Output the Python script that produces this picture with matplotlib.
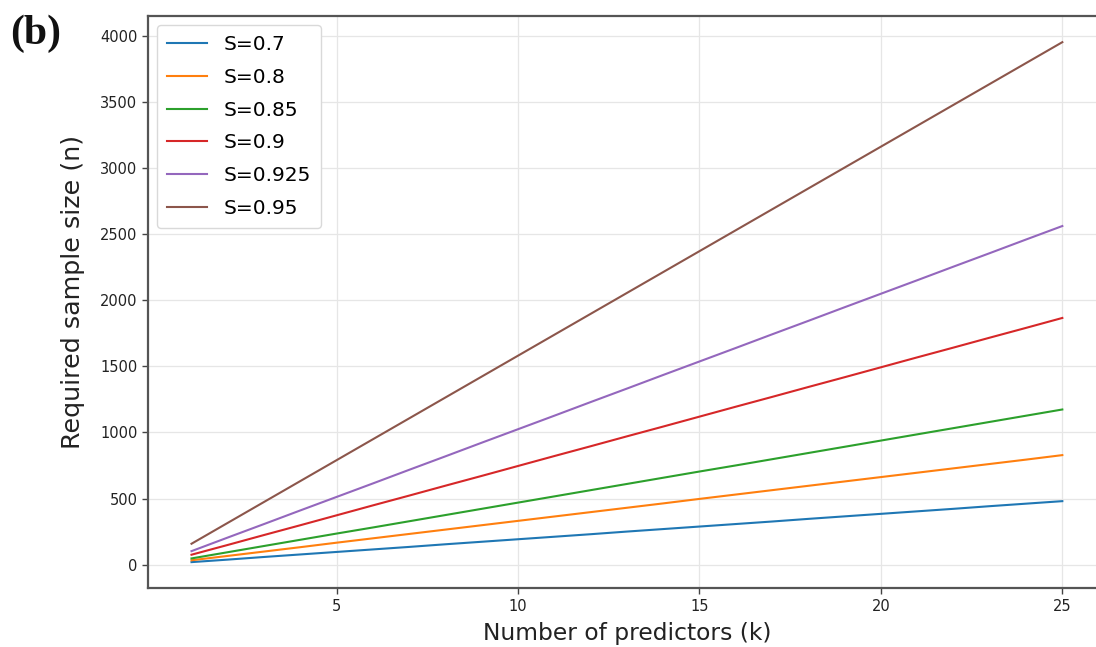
import matplotlib
matplotlib.use("Agg")
import matplotlib.pyplot as plt

# Number of candidate predictors
k_values = list(range(1, 26))

# Shrinkage targets shown in the legend
s_labels = ["S=0.7", "S=0.8", "S=0.85", "S=0.9", "S=0.925", "S=0.95"]

# Required sample size for each predictor count
n_s070 = [19, 38, 58, 77, 96, 115, 134, 154, 173, 192, 211, 230, 250,
          269, 288, 307, 326, 346, 365, 384, 403, 422, 442, 461, 480]
n_s080 = [33, 66, 99, 132, 166, 199, 232, 265, 298, 331, 364, 397, 430,
          463, 497, 530, 563, 596, 629, 662, 695, 728, 761, 794, 828]
n_s085 = [47, 94, 141, 188, 235, 281, 328, 375, 422, 469, 516, 563, 610,
          657, 704, 750, 797, 844, 891, 938, 985, 1032, 1079, 1126, 1173]
n_s090 = [75, 149, 224, 298, 373, 448, 522, 597, 671, 746, 821, 895, 970,
          1044, 1119, 1194, 1268, 1343, 1417, 1492, 1567, 1641, 1716, 1790, 1865]
n_s0925 = [102, 205, 307, 410, 512, 614, 717, 819, 922, 1024, 1126, 1229, 1331,
           1434, 1536, 1638, 1741, 1843, 1946, 2048, 2150, 2253, 2355, 2458, 2560]
n_s095 = [158, 316, 474, 632, 790, 948, 1106, 1264, 1422, 1580, 1738, 1896, 2054,
          2212, 2370, 2528, 2686, 2844, 3002, 3160, 3318, 3476, 3634, 3792, 3950]

series = [n_s070, n_s080, n_s085, n_s090, n_s0925, n_s095]
colors = ["#1f77b4", "#ff7f0e", "#2ca02c", "#d62728", "#9467bd", "#8c564b"]

fig = plt.figure(figsize=(10.96, 6.47), dpi=100)
ax = fig.add_axes([0.135, 0.091, 0.874, 0.884])

for vals, lab, col in zip(series, s_labels, colors):
    ax.plot(k_values, vals, color=col, lw=1.5, label=lab)

ax.set_xticks([5, 10, 15, 20, 25])
ax.set_yticks(range(0, 4001, 500))
ax.tick_params(labelsize=10.5, labelcolor="#222222", color="#444444",
               width=1.0, length=4)
ax.grid(True, color="#e6e6e6", lw=0.9)
ax.set_axisbelow(True)
for sp in ax.spines.values():
    sp.set_color("#555555")
    sp.set_linewidth(1.6)

ax.set_xlabel("Number of predictors (k)", fontsize=16.8, color="#222222",
              labelpad=6)
ax.set_ylabel("Required sample size (n)", fontsize=18.3, color="#222222")
ax.yaxis.set_label_coords(-0.066, 0.517)

leg = ax.legend(loc="upper left", fontsize=14.5, handlelength=2.0,
                borderpad=0.5, labelspacing=0.68, framealpha=1.0,
                borderaxespad=0.45)
leg.get_frame().set_edgecolor("#d9d9d9")

fig.text(0.009, 0.932, "(b)", fontsize=30, fontweight="bold",
         family="Liberation Serif", color="#111111", va="baseline")

fig.savefig("out.png", dpi=100)
